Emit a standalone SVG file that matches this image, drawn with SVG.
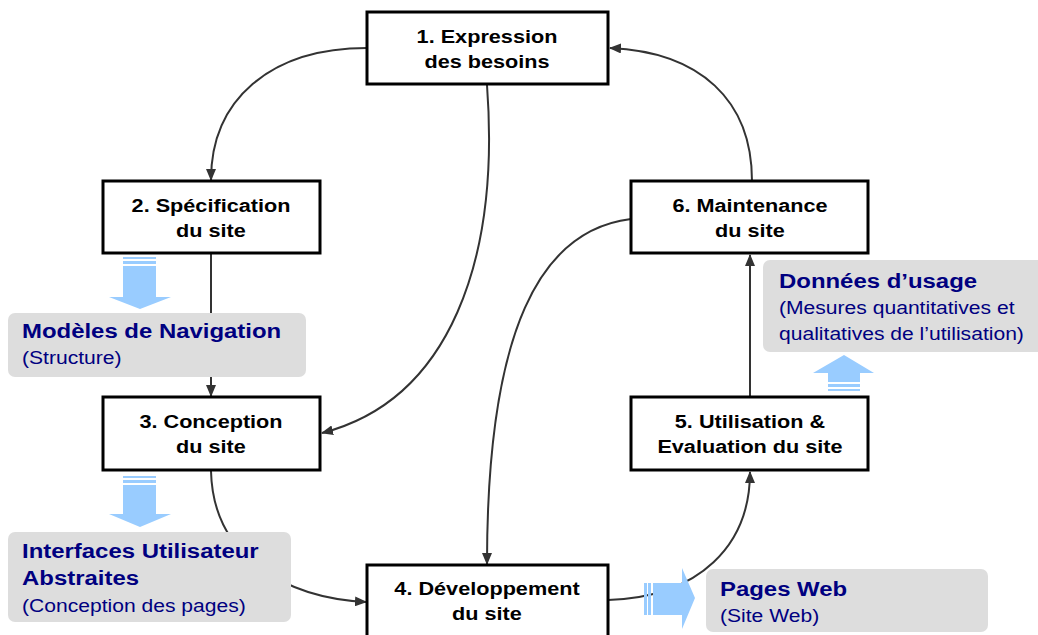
<svg xmlns="http://www.w3.org/2000/svg" width="1038" height="635" viewBox="0 0 1038 635">
  <style>
    .step rect { fill: #ffffff; stroke: #000000; stroke-width: 3; }
    .step text { font-family: "Liberation Sans", Arial, sans-serif; font-size: 19px; font-weight: bold; fill: #000000; text-anchor: middle; }
    .note rect { fill: #dddddd; }
    .note .title { font-family: "Liberation Sans", Arial, sans-serif; font-size: 21px; font-weight: bold; fill: #000080; }
    .note .sub { font-family: "Liberation Sans", Arial, sans-serif; font-size: 18.5px; fill: #000080; }
    .flow path { fill: none; stroke: #333333; stroke-width: 2; }
    .big { fill: #99ccff; }
  </style>
  <defs>
    <marker id="head" viewBox="0 0 12 10" refX="11" refY="5" markerWidth="12" markerHeight="10" markerUnits="userSpaceOnUse" orient="auto">
      <path d="M0,0 L12,5 L0,10 Z" fill="#333333"/>
    </marker>
  </defs>

  <rect width="1038" height="635" fill="#ffffff"/>

  <!-- connectors -->
  <g id="connectors" class="flow">
    <path d="M367,48 C 270,48 211,100 211,180" marker-end="url(#head)"/>
    <path d="M487,85 C 500,260 450,400 322,433" marker-end="url(#head)"/>
    <path d="M211,254 L211,396" marker-end="url(#head)"/>
    <path d="M211,471 C 213,560 290,598 366,602" marker-end="url(#head)"/>
    <path d="M608,600 C 700,597 750,545 750,472" marker-end="url(#head)"/>
    <path d="M750,397 L750,255" marker-end="url(#head)"/>
    <path d="M752,181 C 752,100 700,52 610,48" marker-end="url(#head)"/>
    <path d="M631,219 C 540,230 487,330 487,564" marker-end="url(#head)"/>
  </g>

  <!-- process steps (labels slightly widened) -->
  <g id="step1" class="step">
    <rect x="367" y="12" width="241" height="72"/>
    <text transform="translate(487 43) scale(1.14 1)">1. Expression</text>
    <text transform="translate(487 68) scale(1.14 1)">des besoins</text>
  </g>
  <g id="step2" class="step">
    <rect x="103" y="181" width="217" height="72"/>
    <text transform="translate(211 212) scale(1.14 1)">2. Spécification</text>
    <text transform="translate(211 237) scale(1.14 1)">du site</text>
  </g>
  <g id="step3" class="step">
    <rect x="103" y="397" width="217" height="73"/>
    <text transform="translate(211 428) scale(1.14 1)">3. Conception</text>
    <text transform="translate(211 453) scale(1.14 1)">du site</text>
  </g>
  <g id="step4" class="step">
    <rect x="367" y="565" width="241" height="80"/>
    <text transform="translate(487 595) scale(1.14 1)">4. Développement</text>
    <text transform="translate(487 620) scale(1.14 1)">du site</text>
  </g>
  <g id="step5" class="step">
    <rect x="631" y="397" width="237" height="73"/>
    <text transform="translate(750 428) scale(1.14 1)">5. Utilisation &amp;</text>
    <text transform="translate(750 453) scale(1.14 1)">Evaluation du site</text>
  </g>
  <g id="step6" class="step">
    <rect x="631" y="181" width="237" height="72"/>
    <text transform="translate(750 212) scale(1.14 1)">6. Maintenance</text>
    <text transform="translate(750 237) scale(1.14 1)">du site</text>
  </g>

  <!-- deliverables -->
  <g id="note-navigation" class="note">
    <rect x="8" y="313" width="298" height="64" rx="7"/>
    <text class="title" transform="translate(22 338) scale(1.14 1)">Modèles de Navigation</text>
    <text class="sub" transform="translate(22 364) scale(1.14 1)">(Structure)</text>
  </g>
  <g id="note-interfaces" class="note">
    <rect x="8" y="532" width="283" height="90" rx="7"/>
    <text class="title" transform="translate(22 558) scale(1.14 1)">Interfaces Utilisateur</text>
    <text class="title" transform="translate(22 585) scale(1.14 1)">Abstraites</text>
    <text class="sub" transform="translate(22 612) scale(1.14 1)">(Conception des pages)</text>
  </g>
  <g id="note-usage" class="note">
    <rect x="763" y="260" width="285" height="92" rx="7"/>
    <text class="title" transform="translate(779 288) scale(1.14 1)">Données d’usage</text>
    <text class="sub" transform="translate(779 314) scale(1.14 1)">(Mesures quantitatives et</text>
    <text class="sub" transform="translate(779 340) scale(1.14 1)">qualitatives de l’utilisation)</text>
  </g>
  <g id="note-pages" class="note">
    <rect x="706" y="569" width="282" height="63" rx="7"/>
    <text class="title" transform="translate(720 596) scale(1.14 1)">Pages Web</text>
    <text class="sub" transform="translate(720 622) scale(1.14 1)">(Site Web)</text>
  </g>

  <!-- block arrows -->
  <g id="arrow-navigation" class="big">
    <rect x="123" y="257" width="33" height="2"/>
    <rect x="123" y="261" width="33" height="3"/>
    <path d="M123,266 H156 V297 H171 L140,309 L109,297 H123 Z"/>
  </g>
  <g id="arrow-interfaces" class="big">
    <rect x="123" y="476" width="33" height="2"/>
    <rect x="123" y="480" width="33" height="3"/>
    <path d="M123,485 H156 V514 H171 L140,527 L109,514 H123 Z"/>
  </g>
  <g id="arrow-usage" class="big">
    <rect x="828" y="389" width="32" height="2"/>
    <rect x="828" y="384" width="32" height="3"/>
    <path d="M828,382 V373 H813 L844,355 L874,373 H860 V382 Z"/>
  </g>
  <g id="arrow-pages" class="big">
    <rect x="644" y="583" width="3" height="32"/>
    <rect x="648" y="583" width="3" height="32"/>
    <path d="M653,583 H682 V568 L695,598 L682,629 V615 H653 Z"/>
  </g>
</svg>
